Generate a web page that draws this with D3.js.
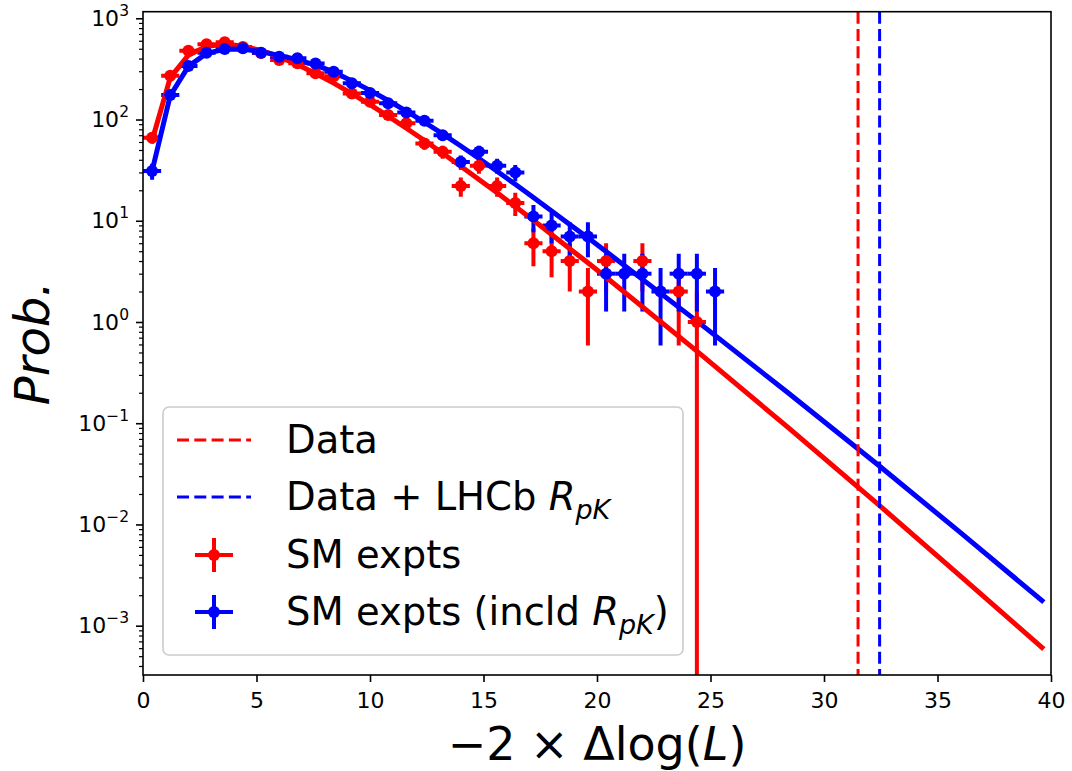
<!DOCTYPE html>
<html>
<head>
<meta charset="utf-8">
<script src="https://cdn.jsdelivr.net/npm/d3@7"></script>
<style>
  html, body { margin: 0; padding: 0; background: #ffffff; }
  svg { display: block; }
  text { font-family: "DejaVu Sans", sans-serif; }
</style>
</head>
<body>
<svg id="chart" width="1072" height="771"></svg>
<script>
// Toy-experiment distributions of -2 x Delta log(L), binned with width 0.8
const binCenters = [0.4, 1.2, 2.0, 2.8, 3.6, 4.4, 5.2, 6.0, 6.8, 7.6,
                    8.4, 9.2, 10.0, 10.8, 11.6, 12.4, 13.2, 14.0, 14.8, 15.6,
                    16.4, 17.2, 18.0, 18.8, 19.6, 20.4, 21.2, 22.0, 22.8, 23.6,
                    24.4, 25.2];
const binHalfWidth = 0.4;

// Counts per bin (null = empty bin)
const smCounts = [66, 271, 478, 553, 580, 520, 455, 387, 360, 286,
                  268, 181, 150, 111, 92, 58, 48, 22, 35, 22,
                  15, 6, 5, 4, 2, 4, null, 4, null, 2,
                  1, null];
const smRpkCounts = [31, 175, 338, 457, 497, 505, 457, 417, 403, 357,
                     297, 228, 183, 145, 117, 97, 70, 38, 48, 35,
                     30, 11, 9, 7, 7, 3, 3, 3, 2, 3,
                     3, 2];

// Fitted curves
const fitX = [0.4, 1.2, 2.0, 2.8, 3.6, 4.4, 5.2, 6.0, 6.8, 7.6,
              8.4, 9.2, 10.0, 10.8, 11.6, 12.4, 13.2, 14.0, 14.8, 15.6,
              16.4, 17.2, 18.0, 18.8, 19.6, 20.4, 24.4, 28.4, 32.4, 36.0,
              39.6];
const fitSM = [62, 259, 432, 528, 555, 532, 481, 416, 349, 285,
               229, 180, 140, 108, 82, 62, 46.5, 34.6, 25.6, 18.9,
               13.8, 10.1, 7.3, 5.3, 3.84, 2.77, 0.515, 0.0915, 0.0157, 0.0031,
               0.00061];
const fitSMRpk = [31, 172, 335, 450, 495, 498, 468, 430, 390, 345,
                  295, 240, 194, 154, 121, 94, 72, 54.7, 41.2, 30.8,
                  22.9, 17.0, 12.5, 9.2, 6.8, 4.97, 1.02, 0.201, 0.0384, 0.00835,
                  0.00177];

// Observed values
const dataValue = 31.5;
const dataRpkValue = 32.45;

// Axis ticks
const xTicks = [0, 5, 10, 15, 20, 25, 30, 35, 40];
const yTickExps = [-3, -2, -1, 0, 1, 2, 3];

const RED = "#ff0000", BLUE = "#0000ff";
const DASH = "12,5.3";

const svg = d3.select("#chart");
const plot = { left: 143, right: 1051, top: 11.7, bottom: 675 };

const x = d3.scaleLinear().domain([0, 40]).range([plot.left, plot.right]);
const y = d3.scaleLog().domain([Math.pow(10, -3.487), Math.pow(10, 3.065)])
  .range([plot.bottom, plot.top]);

svg.append("defs").append("clipPath").attr("id", "plotClip")
  .append("rect")
  .attr("x", plot.left).attr("y", plot.top)
  .attr("width", plot.right - plot.left).attr("height", plot.bottom - plot.top);

const layer = svg.append("g").attr("clip-path", "url(#plotClip)");

const series = [
  { counts: smCounts, fit: fitSM, color: RED },
  { counts: smRpkCounts, fit: fitSMRpk, color: BLUE }
];

function pointsOf(s) {
  return binCenters.map((c, i) => ({ x: c, v: s.counts[i] })).filter(d => d.v != null);
}

// Error bars (Poisson errors vertically, bin width horizontally)
series.forEach(s => {
  const g = layer.append("g").attr("stroke", s.color).attr("stroke-width", 4);
  const pts = pointsOf(s);
  g.selectAll("line.v").data(pts).join("line").attr("class", "v")
    .attr("x1", d => x(d.x)).attr("x2", d => x(d.x))
    .attr("y1", d => y(d.v + Math.sqrt(d.v)))
    .attr("y2", d => { const lo = d.v - Math.sqrt(d.v); return lo > 0 ? y(lo) : plot.bottom + 50; });
  g.selectAll("line.h").data(pts).join("line").attr("class", "h")
    .attr("x1", d => x(d.x - binHalfWidth)).attr("x2", d => x(d.x + binHalfWidth))
    .attr("y1", d => y(d.v)).attr("y2", d => y(d.v));
});

// Fit curves
const line = d3.line().x(d => x(d[0])).y(d => y(d[1]));
series.forEach(s => {
  layer.append("path")
    .datum(fitX.map((fx, i) => [fx, s.fit[i]]))
    .attr("d", line)
    .attr("fill", "none").attr("stroke", s.color).attr("stroke-width", 5)
    .attr("stroke-linejoin", "round").attr("stroke-linecap", "square");
});

// Markers
series.forEach(s => {
  layer.append("g").selectAll("circle").data(pointsOf(s)).join("circle")
    .attr("cx", d => x(d.x)).attr("cy", d => y(d.v)).attr("r", 6)
    .attr("fill", s.color);
});

// Observed values
[[dataValue, RED], [dataRpkValue, BLUE]].forEach(([v, c]) => {
  layer.append("line")
    .attr("x1", x(v)).attr("x2", x(v)).attr("y1", plot.top).attr("y2", plot.bottom)
    .attr("stroke", c).attr("stroke-width", 3).attr("stroke-dasharray", DASH);
});

// Axes
const gx = svg.append("g").attr("transform", `translate(0,${plot.bottom})`)
  .call(d3.axisBottom(x).tickValues(xTicks).tickSize(7).tickPadding(10).tickSizeOuter(0)
    .tickFormat(d3.format("d")));
gx.select(".domain").remove();
gx.attr("font-size", 22).attr("font-family", "DejaVu Sans");
gx.selectAll(".tick line").attr("stroke", "#000").attr("stroke-width", 1.6);

const minorVals = [];
for (let k = -4; k <= 3; k++) for (let m = 2; m <= 9; m++) {
  const v = m * Math.pow(10, k);
  if (v > y.domain()[0] && v < y.domain()[1]) minorVals.push(v);
}
const gyMinor = svg.append("g").attr("transform", `translate(${plot.left},0)`)
  .call(d3.axisLeft(y).tickValues(minorVals).tickSize(4).tickFormat(() => "").tickSizeOuter(0));
gyMinor.select(".domain").remove();
gyMinor.selectAll(".tick line").attr("stroke", "#000").attr("stroke-width", 1.2);

const gy = svg.append("g").attr("transform", `translate(${plot.left},0)`)
  .call(d3.axisLeft(y).tickValues(yTickExps.map(e => Math.pow(10, e)))
    .tickSize(7).tickPadding(7).tickSizeOuter(0).tickFormat(() => ""));
gy.select(".domain").remove();
gy.attr("font-size", 22).attr("font-family", "DejaVu Sans");
gy.selectAll(".tick line").attr("stroke", "#000").attr("stroke-width", 1.6);
gy.selectAll(".tick text").each(function (d) {
  const e = Math.round(Math.log10(d));
  const t = d3.select(this);
  t.append("tspan").text("10");
  t.append("tspan").attr("font-size", "15.5px").attr("dy", "-10").text(e < 0 ? "\u2212" + (-e) : String(e));
});

// Frame
svg.append("rect")
  .attr("x", plot.left).attr("y", plot.top)
  .attr("width", plot.right - plot.left).attr("height", plot.bottom - plot.top)
  .attr("fill", "none").attr("stroke", "#000").attr("stroke-width", 1.6);

// Axis titles
const xl = svg.append("text").attr("x", (plot.left + plot.right) / 2).attr("y", 760)
  .attr("text-anchor", "middle").attr("font-size", 46);
xl.append("tspan").text("\u22122 \u00d7 \u0394log(");
xl.append("tspan").attr("font-style", "italic").text("L");
xl.append("tspan").text(")");

svg.append("text")
  .attr("transform", `translate(49,${(plot.top + plot.bottom) / 2}) rotate(-90)`)
  .attr("text-anchor", "middle").attr("font-size", 48).attr("font-style", "italic")
  .text("Prob.");

// Legend
const lg = svg.append("g");
lg.append("rect").attr("x", 163).attr("y", 407).attr("width", 520).attr("height", 248)
  .attr("rx", 6).attr("fill", "#ffffff").attr("fill-opacity", 0.8)
  .attr("stroke", "#cccccc").attr("stroke-width", 1.6);

const rowY = [440, 497, 555, 612];
const textX = 286;
const legendFont = 38.5;

[[RED, 0], [BLUE, 1]].forEach(([c, i]) => {
  lg.append("line").attr("x1", 177).attr("x2", 251).attr("y1", rowY[i]).attr("y2", rowY[i])
    .attr("stroke", c).attr("stroke-width", 3).attr("stroke-dasharray", DASH);
});
[[RED, 2], [BLUE, 3]].forEach(([c, i]) => {
  const cx = 214, cy = rowY[i];
  lg.append("line").attr("x1", cx - 19).attr("x2", cx + 19).attr("y1", cy).attr("y2", cy)
    .attr("stroke", c).attr("stroke-width", 4);
  lg.append("line").attr("x1", cx).attr("x2", cx).attr("y1", cy - 17).attr("y2", cy + 17)
    .attr("stroke", c).attr("stroke-width", 4);
  lg.append("circle").attr("cx", cx).attr("cy", cy).attr("r", 6).attr("fill", c);
});

function legendText(i) {
  return lg.append("text").attr("x", textX).attr("y", rowY[i] + 13).attr("font-size", legendFont);
}
legendText(0).text("Data");
const t1 = legendText(1);
t1.append("tspan").text("Data + LHCb ");
t1.append("tspan").attr("font-style", "italic").text("R");
t1.append("tspan").attr("font-style", "italic").attr("font-size", 27).attr("dy", 9).text("pK");
legendText(2).text("SM expts");
const t3 = legendText(3);
t3.append("tspan").text("SM expts (incld ");
t3.append("tspan").attr("font-style", "italic").text("R");
t3.append("tspan").attr("font-style", "italic").attr("font-size", 27).attr("dy", 9).text("pK");
t3.append("tspan").attr("dy", -9).text(")");
</script>
</body>
</html>
